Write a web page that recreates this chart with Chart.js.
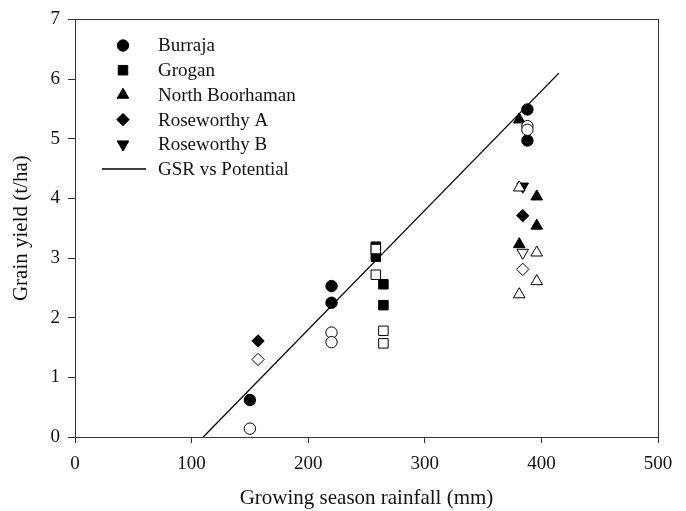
<!DOCTYPE html>
<html>
<head>
<meta charset="utf-8">
<script src="https://cdn.jsdelivr.net/npm/chart.js@4/dist/chart.umd.min.js"></script>
<style>
  html, body { margin: 0; padding: 0; background: #fff; }
  #wrap { width: 686px; height: 511px; }
</style>
</head>
<body>
<div id="wrap"><canvas id="chart" width="686" height="511"></canvas></div>
<script>
// Datos: lluvia de la estación (mm) vs rendimiento (t/ha)
const xTicks = [0, 100, 200, 300, 400, 500];
const yTicks = [0, 1, 2, 3, 4, 5, 6, 7];

const burrajaFilled = [[150, 0.62], [220, 2.53], [220, 2.25], [388, 5.49], [388, 4.97]];
const burrajaOpen = [[150, 0.14], [220, 1.75], [220, 1.59], [388, 5.21], [388, 5.15]];
const groganFilled = [[258, 3.19], [258, 3.02], [264.5, 2.56], [264.5, 2.21]];
const groganOpen = [[258, 3.15], [258, 2.72], [264.5, 1.78], [264.5, 1.57]];
const northFilled = [[381, 5.32], [396, 4.03], [396, 3.54], [381, 3.23]];
const northOpen = [[381, 4.18], [396, 3.09], [396, 2.61], [381, 2.39]];
const roseAFilled = [[157, 1.61], [384, 3.71]];
const roseAOpen = [[157, 1.30], [384, 2.81]];
const roseBFilled = [[384, 4.20]];
const roseBOpen = [[384, 3.09]];
const potentialLine = [[110, 0], [415, 6.1]];

const FONT = "'Liberation Serif', 'Times New Roman', serif";

function pts(arr) {
  return arr.map(p => ({ x: p[0], y: p[1] }));
}

// Estilo de marcador por sitio
const markers = {
  'Burraja': { pointStyle: 'circle', radius: 5.7, rotation: 0 },
  'Grogan': { pointStyle: 'rect', radius: 6.7, rotation: 0 },
  'North Boorhaman': { pointStyle: 'triangle', radius: 6.7, rotation: 0 },
  'Roseworthy A': { pointStyle: 'rectRot', radius: 6.2, rotation: 0 },
  'Roseworthy B': { pointStyle: 'triangle', radius: 6.7, rotation: 180 }
};

function siteDataset(label, data, filled) {
  const m = markers[label];
  return {
    label: label,
    data: pts(data),
    showLine: false,
    pointStyle: m.pointStyle,
    pointRotation: m.rotation,
    pointRadius: m.radius,
    pointHoverRadius: m.radius,
    pointBackgroundColor: filled ? '#000' : '#fff',
    pointBorderColor: '#000',
    pointBorderWidth: 1,
    order: filled ? 3 : 2,
    inLegend: filled
  };
}

const datasets = [
  siteDataset('Burraja', burrajaFilled, true),
  siteDataset('Grogan', groganFilled, true),
  siteDataset('North Boorhaman', northFilled, true),
  siteDataset('Roseworthy A', roseAFilled, true),
  siteDataset('Roseworthy B', roseBFilled, true),
  siteDataset('Burraja', burrajaOpen, false),
  siteDataset('Grogan', groganOpen, false),
  siteDataset('North Boorhaman', northOpen, false),
  siteDataset('Roseworthy A', roseAOpen, false),
  siteDataset('Roseworthy B', roseBOpen, false),
  {
    label: 'GSR vs Potential',
    data: pts(potentialLine),
    showLine: true,
    borderColor: '#000',
    borderWidth: 1.3,
    pointRadius: 0,
    order: 1,
    inLegend: true
  }
];

// Marco completo alrededor del área de la gráfica
const frameBox = {
  id: 'frameBox',
  afterDraw(chart) {
    const a = chart.chartArea;
    const ctx = chart.ctx;
    ctx.save();
    ctx.strokeStyle = '#333';
    ctx.lineWidth = 1;
    ctx.strokeRect(Math.round(a.left) + 0.5, Math.round(a.top) + 0.5,
      Math.round(a.right - a.left), Math.round(a.bottom - a.top));
    ctx.restore();
  }
};

// Leyenda dentro del área de la gráfica, arriba a la izquierda
const innerLegend = {
  id: 'innerLegend',
  afterDraw(chart) {
    const ctx = chart.ctx;
    const items = chart.data.datasets.filter(d => d.inLegend);
    const markerX = 123;
    const textX = 158;
    const startY = 45.5;
    const rowH = 24.7;
    ctx.save();
    ctx.font = '19px ' + FONT;
    ctx.textBaseline = 'middle';
    ctx.fillStyle = '#111';
    items.forEach((d, i) => {
      const y = startY + i * rowH;
      if (d.showLine) {
        ctx.strokeStyle = '#000';
        ctx.lineWidth = 1.3;
        ctx.beginPath();
        ctx.moveTo(102, y);
        ctx.lineTo(146, y);
        ctx.stroke();
      } else {
        ctx.fillStyle = '#000';
        ctx.strokeStyle = '#000';
        ctx.lineWidth = 1;
        Chart.helpers.drawPoint(ctx, {
          pointStyle: d.pointStyle,
          radius: d.pointRadius,
          rotation: d.pointRotation,
          borderWidth: 1
        }, markerX, y);
        ctx.fillStyle = '#111';
      }
      ctx.fillText(d.label, textX, y + 1);
    });
    ctx.restore();
  }
};

const ctx = document.getElementById('chart').getContext('2d');
const chart = new Chart(ctx, {
  type: 'scatter',
  data: { datasets: datasets },
  options: {
    responsive: false,
    animation: false,
    layout: { padding: { left: 0, top: 19, right: 28, bottom: 0 } },
    plugins: {
      legend: { display: false },
      tooltip: { enabled: false }
    },
    scales: {
      x: {
        type: 'linear',
        min: xTicks[0],
        max: xTicks[xTicks.length - 1],
        afterBuildTicks: axis => { axis.ticks = xTicks.map(v => ({ value: v })); },
        afterFit: axis => { axis.height = 74; },
        grid: { drawOnChartArea: false, drawTicks: true, tickLength: 6, color: '#333' },
        border: { color: '#333' },
        ticks: { color: '#111', padding: 10, maxRotation: 0, font: { family: FONT, size: 19 } },
        title: {
          display: true,
          text: 'Growing season rainfall (mm)',
          color: '#111',
          padding: { top: 0, bottom: 0 },
          font: { family: FONT, size: 21 }
        }
      },
      y: {
        type: 'linear',
        min: yTicks[0],
        max: yTicks[yTicks.length - 1],
        afterBuildTicks: axis => { axis.ticks = yTicks.map(v => ({ value: v })); },
        afterFit: axis => { axis.width = 75; },
        grid: { drawOnChartArea: false, drawTicks: true, tickLength: 7, color: '#333' },
        border: { color: '#333' },
        ticks: { color: '#111', padding: 8, font: { family: FONT, size: 19 } },
        title: {
          display: true,
          text: 'Grain yield (t/ha)',
          color: '#111',
          padding: { top: 9, bottom: 0 },
          font: { family: FONT, size: 21 }
        }
      }
    }
  },
  plugins: [frameBox, innerLegend]
});
</script>
</body>
</html>
